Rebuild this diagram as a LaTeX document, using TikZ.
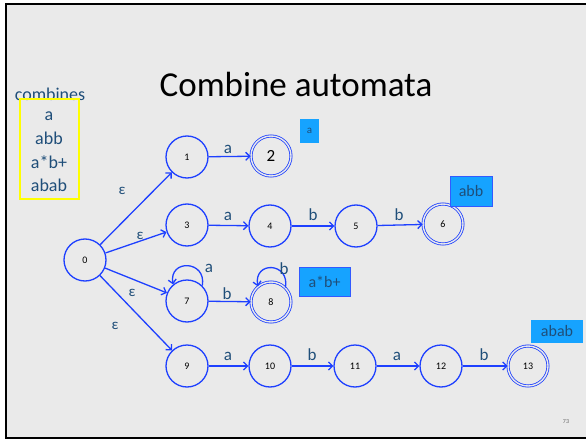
\documentclass[tikz,border=0pt]{standalone}
\usepackage{fontspec}
\setmainfont{Carlito}
\usetikzlibrary{arrows.meta}
\definecolor{slidebg}{RGB}{234,234,234}
\definecolor{edgeblue}{RGB}{30,64,255}
\definecolor{labelblue}{RGB}{31,78,121}
\definecolor{tagfill}{RGB}{22,163,255}
\definecolor{tagedge}{RGB}{50,90,255}
\definecolor{boxyellow}{RGB}{255,255,0}
\begin{document}
\begin{tikzpicture}[x=1pt,y=-1pt,
  state/.style={circle, draw=edgeblue, line width=1.3pt, minimum size=42pt,
    inner sep=0pt, font=\fontsize{10}{10}\selectfont},
  accept/.style={state, double=slidebg, double distance=1.4pt, line width=0.8pt,
    minimum size=40pt},
  trans/.style={draw=edgeblue, line width=1.3pt, -{Straight Barb[length=4pt,width=8pt,line width=1.3pt]}},
  lbl/.style={text=labelblue, inner sep=0pt, font=\fontsize{17}{17}\selectfont},
  eps/.style={text=labelblue, inner sep=0pt, font=\fontsize{15}{15}\selectfont},
  tag/.style={fill=tagfill, text=labelblue, inner sep=0pt, font=\fontsize{16}{16}\selectfont},
]
\useasboundingbox (0,0) rectangle (586,441);
\clip (0,0) rectangle (586,441);
% slide
\fill[white] (0,0) rectangle (586,441);
\fill[slidebg] (6,4) rectangle (600,438);
\draw[line width=2pt] (6,4) rectangle (600,438);

% title
\node[font=\fontsize{35}{35}\selectfont] (title) at (296,84) {Combine automata};

% legend
\node[text=labelblue, inner sep=0pt, font=\fontsize{18}{18}\selectfont] (comb) at (50,94) {combines};
\draw[boxyellow, line width=1.2pt] (20,99) rectangle (79,199);
\node[lbl, font=\fontsize{18}{18}\selectfont] (l1) at (49,116) {a};
\node[lbl, font=\fontsize{18}{18}\selectfont] (l2) at (49,138) {abb};
\node[lbl, font=\fontsize{18}{18}\selectfont] (l3) at (49,162) {a*b+};
\node[lbl, font=\fontsize{18}{18}\selectfont] (l4) at (49,185) {abab};

% states
\node[state] (n0) at (85,260) {0};
\node[state] (n1) at (187,157) {1};
\node[accept, font=\fontsize{17}{17}\selectfont] (n2) at (271,156) {2};
\node[state] (n3) at (187,225) {3};
\node[state] (n4) at (270,226) {4};
\node[state] (n5) at (356,226) {5};
\node[accept] (n6) at (443,224) {6};
\node[state] (n7) at (187,301) {7};
\node[accept] (n8) at (271,302) {8};
\node[state] (n9) at (187,366) {9};
\node[state] (n10) at (270,366) {10};
\node[state] (n11) at (355,366) {11};
\node[state] (n12) at (441,366) {12};
\node[accept] (n13) at (528,366) {13};

% epsilon moves
\draw[trans] (n0) -- (n1);
\draw[trans] (n0) -- (n3);
\draw[trans] (n0) -- (n7);
\draw[trans] (n0) -- (n9);
\node[eps] (e1) at (122,191) {ε};
\node[eps] (e2) at (140,236) {ε};
\node[eps] (e3) at (132,293) {ε};
\node[eps] (e4) at (115,326) {ε};

% symbol moves
\draw[trans] (n1) -- (n2);
\draw[trans] (n3) -- (n4);
\draw[trans] (n4) -- (n5);
\draw[trans] (n5) -- (n6);
\draw[trans] (n7) -- (n8);
\draw[trans] (n9) -- (n10);
\draw[trans] (n10) -- (n11);
\draw[trans] (n11) -- (n12);
\draw[trans] (n12) -- (n13);
% self-loops (y axis points down, so upward directions are negative angles)
\draw[trans] (n7.45) .. controls +(-80:26) and +(-100:26) .. (n7.130);
\draw[trans] (n8.45) .. controls +(-80:26) and +(-100:26) .. (n8.130);

\node[lbl] (t12) at (228,149) {a};
\node[lbl] (t34) at (228,216) {a};
\node[lbl] (t45) at (313,215) {b};
\node[lbl] (t56) at (399,215) {b};
\node[lbl] (t77) at (209,268) {a};
\node[lbl] (t78) at (227,294) {b};
\node[lbl] (t88) at (284,269) {b};
\node[lbl] (t910) at (228,356) {a};
\node[lbl] (t1011) at (312,355) {b};
\node[lbl] (t1112) at (397,356) {a};
\node[lbl] (t1213) at (484,355) {b};

% accepted patterns
\node[tag, font=\fontsize{11}{11}\selectfont, minimum width=19pt, minimum height=24pt] (p2) at (309.5,131) {a};
\node[tag, draw=tagedge, line width=0.6pt, minimum width=42pt, minimum height=30pt] (p6) at (471,191) {abb};
\node[tag, draw=tagedge, line width=0.6pt, minimum width=51pt, minimum height=29pt] (p8) at (324.5,281.5) {a*b+};
\node[tag, minimum width=52pt, minimum height=23pt] (p13) at (557,331) {abab};

% page number
\node[text=black!60, font=\fontsize{6}{6}\selectfont] (pg) at (566,422) {73};
\end{tikzpicture}
\end{document}
